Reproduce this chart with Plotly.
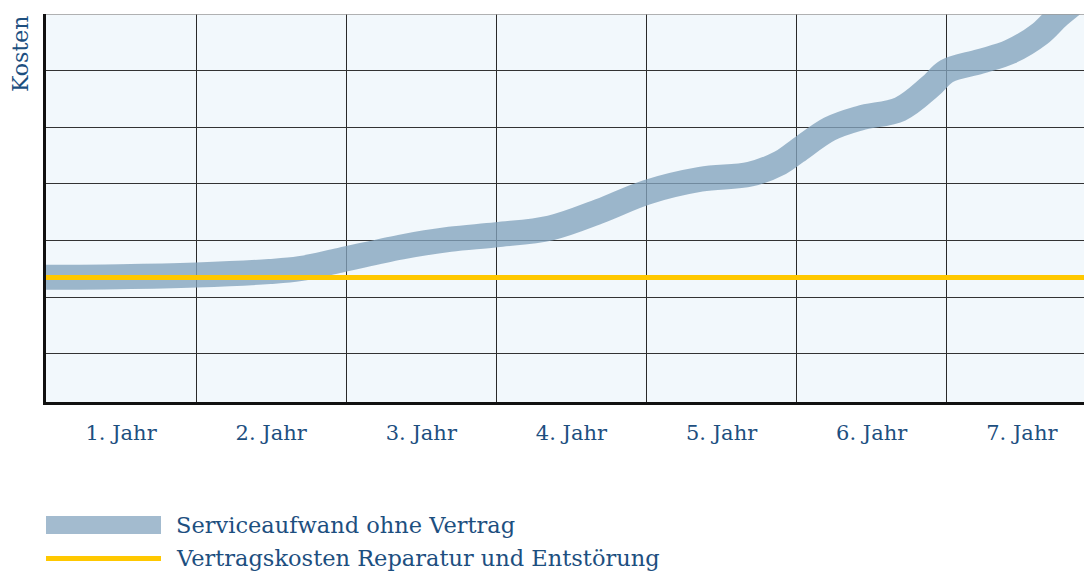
import plotly.graph_objects as go

years = ["1. Jahr", "2. Jahr", "3. Jahr", "4. Jahr", "5. Jahr", "6. Jahr", "7. Jahr"]
year_centers = [0.5, 1.5, 2.5, 3.5, 4.5, 5.5, 6.5]
year_bounds = [1, 2, 3, 4, 5, 6]
cost_grid = [1, 2, 3, 4, 5, 6]

series_names = ["Serviceaufwand ohne Vertrag", "Vertragskosten Reparatur und Entstörung"]

# Serviceaufwand ohne Vertrag (rising band)
service_x = [0, 0.49, 1.0, 1.49, 1.69, 1.96, 2.36, 2.69, 3.0, 3.36, 3.69, 4.0, 4.36,
             4.69, 4.89, 5.0, 5.22, 5.42, 5.69, 5.89, 6.0, 6.22, 6.42, 6.62, 6.75, 7.0]
service_y = [2.35, 2.36, 2.39, 2.45, 2.50, 2.65, 2.88, 3.02, 3.10, 3.22, 3.52, 3.85, 4.08,
             4.17, 4.37, 4.57, 4.97, 5.16, 5.32, 5.72, 5.99, 6.16, 6.33, 6.65, 6.98, 7.5]

# Vertragskosten (flat)
contract_x = [0, 7.0]
contract_y = [2.345, 2.345]

TXT = "#1d4f7f"
FONT = "DejaVu Serif"
BAND = "rgba(131,163,188,0.78)"
BAND_LEG = "#a3bbcf"
YEL = "#ffc800"

fig = go.Figure()
fig.add_trace(go.Scatter(
    x=service_x, y=service_y, mode="lines", name=series_names[0],
    line=dict(color=BAND, width=25, shape="spline", smoothing=1.0),
    hoverinfo="skip", showlegend=False))
fig.add_trace(go.Scatter(
    x=contract_x, y=contract_y, mode="lines", name=series_names[1],
    line=dict(color=YEL, width=5), hoverinfo="skip", showlegend=False))

# manual legend (paper coordinates)
W, H, L, B = 1038, 388, 46, 402
def px(x):
    return (x - L) / W
def py(y):
    return (B - y) / H

shapes = [
    dict(type="line", xref="paper", yref="y", x0=0, x1=1, y0=7, y1=7,
         line=dict(color="#9a9a9a", width=1.5)),
    dict(type="rect", xref="paper", yref="paper", x0=px(46), x1=px(161), y0=py(534), y1=py(516),
         fillcolor=BAND_LEG, line=dict(width=0)),
    dict(type="line", xref="paper", yref="paper", x0=px(46), x1=px(161), y0=py(558.5), y1=py(558.5),
         line=dict(color=YEL, width=5)),
]

annotations = [
    dict(text="Kosten", xref="paper", yref="paper", x=px(20), y=1,
         xanchor="center", yanchor="top", textangle=-90, showarrow=False,
         font=dict(size=22, color=TXT, family=FONT)),
    dict(text=series_names[0], xref="paper", yref="paper", x=px(174), y=py(525),
         xanchor="left", yanchor="middle", showarrow=False,
         font=dict(size=22.5, color=TXT, family=FONT)),
    dict(text=series_names[1], xref="paper", yref="paper", x=px(174), y=py(558),
         xanchor="left", yanchor="middle", showarrow=False,
         font=dict(size=22.5, color=TXT, family=FONT)),
]

fig.update_layout(
    width=1084, height=572,
    margin=dict(l=46, r=0, t=14, b=170, autoexpand=False),
    paper_bgcolor="white", plot_bgcolor="#f2f8fc",
    font=dict(family=FONT, color=TXT, size=21),
    showlegend=False,
    xaxis=dict(range=[0, 6.914], tickmode="array", tickvals=year_centers, ticktext=years,
               showgrid=False, zeroline=False, showline=True, linecolor="#111", linewidth=3,
               ticks="outside", ticklen=10, tickcolor="rgba(0,0,0,0)",
               tickfont=dict(size=21, color=TXT, family=FONT),
               minor=dict(tickmode="array", tickvals=year_bounds, showgrid=True,
                          gridcolor="#2a2a2a", gridwidth=1, ticks=""),
               fixedrange=True),
    yaxis=dict(range=[0.145, 7], tickmode="array", tickvals=cost_grid, showticklabels=False,
               showgrid=True, gridcolor="#333", gridwidth=1, zeroline=False,
               showline=True, linecolor="#111", linewidth=2.5, ticks="", fixedrange=True),
    shapes=shapes,
    annotations=annotations,
)

fig.write_html("out.html", config={"displayModeBar": False},
               post_script="document.body.style.margin='0';document.body.style.overflow='hidden';")
